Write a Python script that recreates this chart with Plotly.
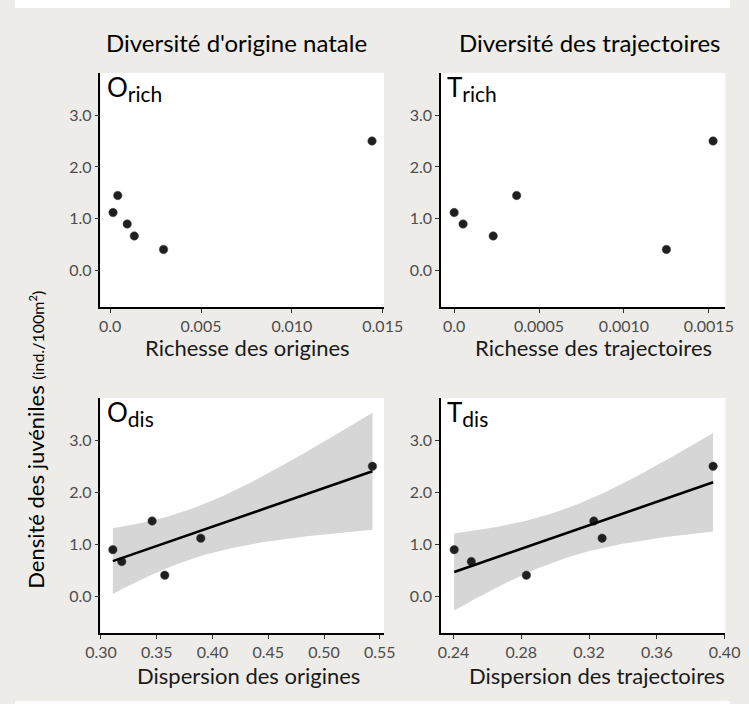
import numpy as np
import plotly.graph_objects as go

# ---------------- data ----------------
densite = [1.12, 1.45, 0.90, 0.67, 0.41, 2.50]
o_rich = [0.00016, 0.00042, 0.00094, 0.00133, 0.00294, 0.01441]
t_rich = [0.0, 0.000368, 0.0000525, 0.00023, 0.00125, 0.001525]
o_dis = [0.3895, 0.3459, 0.3107, 0.3187, 0.3572, 0.5434]
t_dis = [0.3277, 0.3228, 0.2404, 0.2505, 0.2830, 0.3932]

col_titles = ["Diversité d'origine natale", "Diversité des trajectoires"]
x_titles = ["Richesse des origines", "Richesse des trajectoires",
            "Dispersion des origines", "Dispersion des trajectoires"]
panel_main = ["O", "T", "O", "T"]
panel_sub = ["rich", "rich", "dis", "dis"]
y_title_main = "Densité des juvéniles"
y_title_unit = "(ind./100m<sup>2</sup>)"

y_tickvals = [0, 1, 2, 3]
y_ticktext = ["0.0", "1.0", "2.0", "3.0"]
x1_tickvals = [0, 0.005, 0.010, 0.015]
x1_ticktext = ["0.0", "0.005", "0.010", "0.015"]
x2_tickvals = [0, 0.0005, 0.0010, 0.0015]
x2_ticktext = ["0.0", "0.0005", "0.0010", "0.0015"]
x3_tickvals = [0.30, 0.35, 0.40, 0.45, 0.50, 0.55]
x3_ticktext = ["0.30", "0.35", "0.40", "0.45", "0.50", "0.55"]
x4_tickvals = [0.24, 0.28, 0.32, 0.36, 0.40]
x4_ticktext = ["0.24", "0.28", "0.32", "0.36", "0.40"]

T_CRIT = 2.776445  # Student t, 95 %, df = 4

W, H = 749, 704
FONT = "Lato"


def fx(X):
    # reference pixel column -> figure pixel column
    return (X - 13.0) / 0.9636


def px(X):
    return fx(X) / W


def py(y):
    return 1 - y / H


def lm_band(x, y, n=80):
    x = np.asarray(x, float)
    y = np.asarray(y, float)
    b, a = np.polyfit(x, y, 1)
    xs = np.linspace(x.min(), x.max(), n)
    fit = a + b * xs
    res = y - (a + b * x)
    s = np.sqrt(np.sum(res ** 2) / (len(x) - 2))
    se = s * np.sqrt(1 / len(x) + (xs - x.mean()) ** 2 / np.sum((x - x.mean()) ** 2))
    return xs, fit, fit - T_CRIT * se, fit + T_CRIT * se


fig = go.Figure()

panels = [
    ("x", "y", o_rich, False),
    ("x2", "y2", t_rich, False),
    ("x3", "y3", o_dis, True),
    ("x4", "y4", t_dis, True),
]

for xa, ya, xv, smooth in panels:
    if smooth:
        xs, fit, lo, hi = lm_band(xv, densite)
        fig.add_trace(go.Scatter(
            x=np.concatenate([xs, xs[::-1]]), y=np.concatenate([hi, lo[::-1]]),
            fill="toself", fillcolor="rgba(153,153,153,0.4)", line=dict(width=0),
            mode="lines", hoverinfo="skip", showlegend=False, xaxis=xa, yaxis=ya))
    fig.add_trace(go.Scatter(
        x=xv, y=densite, mode="markers",
        marker=dict(size=8.5, color="#1f1f1f", line=dict(width=0.5, color="#444")),
        showlegend=False, xaxis=xa, yaxis=ya))
    if smooth:
        fig.add_trace(go.Scatter(
            x=xs, y=fit, mode="lines", line=dict(color="black", width=2.6),
            showlegend=False, xaxis=xa, yaxis=ya, hoverinfo="skip"))

# panel geometry (reference pixels)
XL = (99.3, 385.5)
XR = (443.0, 730.0)
YT = (73.0, 307.0)
YB = (398.0, 633.0)

axis_common = dict(showgrid=False, zeroline=False, showline=True, linecolor="black",
                   linewidth=1.6, ticks="outside", ticklen=4, tickwidth=1.1,
                   tickcolor="#333333", tickfont=dict(family=FONT, size=16, color="#4D4D4D"),
                   mirror=False)
yrange = [-0.70, 3.81]

layout = dict(
    width=W, height=H,
    margin=dict(l=0, r=0, t=0, b=0),
    paper_bgcolor="#EDECE8", plot_bgcolor="white",
    showlegend=False,
    xaxis=dict(domain=[px(XL[0]), px(XL[1])], anchor="y", range=[-0.00053, 0.01507],
               tickvals=x1_tickvals, ticktext=x1_ticktext, **axis_common),
    yaxis=dict(domain=[py(YT[1]), py(YT[0])], anchor="x", range=yrange,
               tickvals=y_tickvals, ticktext=y_ticktext, **axis_common),
    xaxis2=dict(domain=[px(XR[0]), px(XR[1])], anchor="y2", range=[-0.0000776, 0.001597],
                tickvals=x2_tickvals, ticktext=x2_ticktext, **axis_common),
    yaxis2=dict(domain=[py(YT[1]), py(YT[0])], anchor="x2", range=yrange,
                tickvals=y_tickvals, ticktext=y_ticktext, **axis_common),
    xaxis3=dict(domain=[px(XL[0]), px(XL[1])], anchor="y3", range=[0.2996, 0.5538],
                tickvals=x3_tickvals, ticktext=x3_ticktext, **axis_common),
    yaxis3=dict(domain=[py(YB[1]), py(YB[0])], anchor="x3", range=yrange,
                tickvals=y_tickvals, ticktext=y_ticktext, **axis_common),
    xaxis4=dict(domain=[px(XR[0]), min(1.0, px(XR[1]))], anchor="y4", range=[0.2326, 0.4004],
                tickvals=x4_tickvals, ticktext=x4_ticktext, **axis_common),
    yaxis4=dict(domain=[py(YB[1]), py(YB[0])], anchor="x4", range=yrange,
                tickvals=y_tickvals, ticktext=y_ticktext, **axis_common),
)
fig.update_layout(**layout)

# white outer strips (top and bottom)
for x0, x1, y0, y1 in [(0, 1, py(8), 1), (0, 1, 0, py(701))]:
    fig.add_shape(type="rect", xref="paper", yref="paper", x0=x0, x1=x1, y0=y0, y1=y1,
                  fillcolor="white", line=dict(width=0), layer="below")

ann = []
# column titles
for txt, cx in zip(col_titles, [237, 593]):
    ann.append(dict(text=txt, x=px(cx), y=py(42), xref="paper", yref="paper",
                    showarrow=False, xanchor="center", yanchor="middle",
                    font=dict(family=FONT, size=24, color="black")))
# x axis titles
for txt, cx, cy in zip(x_titles, [248, 597, 249, 600], [347, 347, 675, 675]):
    ann.append(dict(text=txt, x=px(cx), y=py(cy), xref="paper", yref="paper",
                    showarrow=False, xanchor="center", yanchor="middle",
                    font=dict(family=FONT, size=22, color="#1a1a1a")))
# panel labels
for m, s, lx, ty in zip(panel_main, panel_sub, [104, 447, 104, 447], [69, 69, 394, 394]):
    txt = m + "<sub><span style='font-size:21px'>" + s + "</span></sub>"
    ann.append(dict(text=txt, x=px(lx), y=py(ty), xref="paper", yref="paper",
                    showarrow=False, xanchor="left", yanchor="top",
                    font=dict(family=FONT, size=26, color="black")))
# y title
ann.append(dict(text=y_title_main + " <span style='font-size:16px'>" + y_title_unit + "</span>",
                x=px(33), y=py(440), xref="paper", yref="paper", textangle=-90,
                showarrow=False, xanchor="center", yanchor="middle",
                font=dict(family=FONT, size=22, color="black")))
fig.update_layout(annotations=ann)

fig.write_html("out.html", config={"displayModeBar": False},
               post_script="document.body.style.margin='0';document.body.style.overflow='hidden';")
